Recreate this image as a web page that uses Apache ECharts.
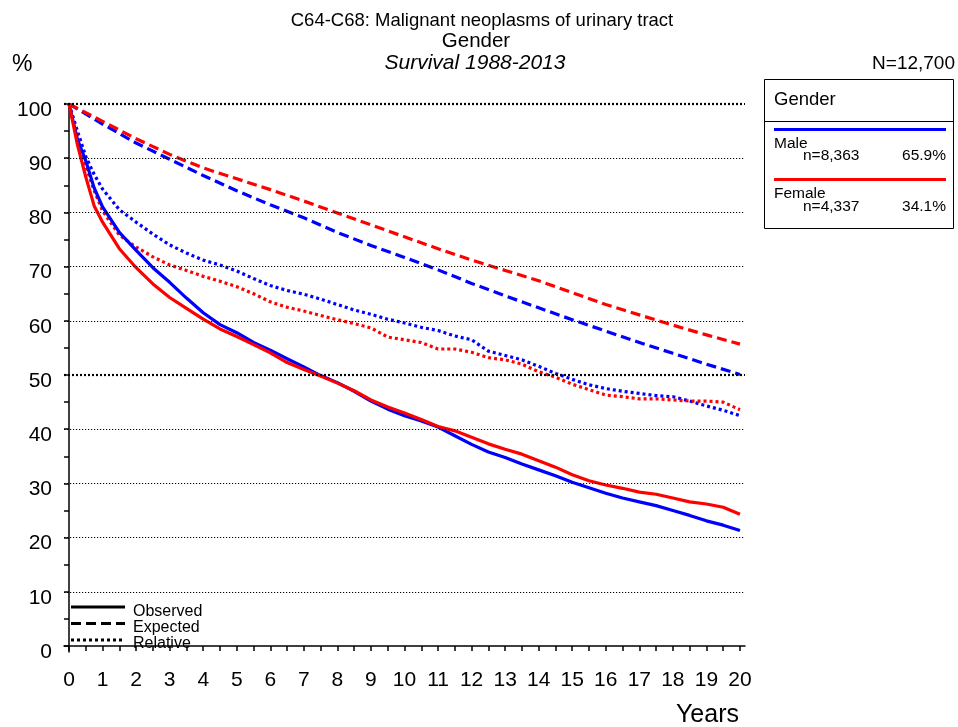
<!DOCTYPE html>
<html><head><meta charset="utf-8">
<script src="https://cdn.jsdelivr.net/npm/echarts@6.0.0/dist/echarts.min.js"></script>
<style>html,body{margin:0;padding:0;background:#fff}#c{width:958px;height:727px}</style>
</head><body><div id="c"></div>
<script>
// time points (years)
const tObs = [0,0.25,0.5,0.75,1,1.5,2,2.5,3,3.5,4,4.5,5,5.5,6,6.5,7,7.5,8,8.5,9,9.5,10,10.5,11,11.5,12,12.5,13,13.5,14,14.5,15,15.5,16,16.5,17,17.5,18,18.5,19,19.5,20];
const tExp = [0,1,2,3,4,5,6,7,8,9,10,11,12,13,14,15,16,17,18,19,20];
// observed survival (%)
const maleObs = [100,93.5,89.5,84.5,81,76.3,73,69.8,67.1,64.2,61.5,59.3,57.8,56,54.6,53,51.5,49.9,48.6,47,45.2,43.7,42.5,41.5,40.4,38.8,37.2,35.8,34.8,33.6,32.5,31.4,30.2,29.2,28.2,27.3,26.6,25.9,25.0,24.1,23.1,22.3,21.3];
const femaleObs = [100,92.5,86.5,81.2,78.2,73.3,69.8,66.8,64.3,62.3,60.3,58.5,57.1,55.6,54.1,52.3,51,49.8,48.5,47.1,45.4,44.1,43,41.8,40.5,39.7,38.5,37.3,36.3,35.4,34.2,33,31.6,30.5,29.7,29.1,28.4,28.0,27.3,26.6,26.2,25.6,24.3];
// relative survival (%)
const maleRel = [100,95,90.3,87,84.3,80.5,78.2,76,74,72.5,71.2,70.3,69.2,67.8,66.5,65.6,64.9,64,63,62,61.2,60.3,59.6,58.8,58.2,57.2,56.5,54.4,53.6,52.8,51.6,50.3,49.2,48.2,47.5,47,46.6,46.2,46,45.2,44.3,43.5,42.5];
const femaleRel = [100,94,88.5,84,80.3,75.8,73.6,71.8,70.3,69.3,68.2,67.3,66.3,65,63.5,62.5,61.8,61,60.2,59.5,58.7,57,56.5,56,54.8,54.8,54.2,53.2,52.8,52,50.6,49.6,48.3,47.3,46.3,46,45.6,45.6,45.4,45.2,45.2,45,43.6];
// expected survival (%)
const maleExp = [100,96.3,92.8,89.8,86.8,84.0,81.4,79.0,76.3,73.9,71.7,69.4,66.9,64.6,62.4,60.2,58.1,56.0,54.0,52.0,50.1];
const femaleExp = [100,96.8,93.6,90.7,88.2,86.2,84.2,82.1,79.9,77.7,75.5,73.3,71.2,69.3,67.4,65.2,63.0,61.1,59.2,57.4,55.7];
// axis ticks / labels
const xTicks = [0,0.5,1,1.5,2,2.5,3,3.5,4,4.5,5,5.5,6,6.5,7,7.5,8,8.5,9,9.5,10,10.5,11,11.5,12,12.5,13,13.5,14,14.5,15,15.5,16,16.5,17,17.5,18,18.5,19,19.5,20];
const xLabels = [0,1,2,3,4,5,6,7,8,9,10,11,12,13,14,15,16,17,18,19,20];
const yTicks = [0,5,10,15,20,25,30,35,40,45,50,55,60,65,70,75,80,85,90,95,100];
const yLabels = [0,10,20,30,40,50,60,70,80,90,100];
const gridLevels = [10,20,30,40,50,60,70,80,90,100];
const boldLevels = [50,100];

const FONT = "'Liberation Sans', Arial, sans-serif";
const BLUE = '#0000ff', RED = '#ff0000';

function pairs(t, v){ return t.map((x,i)=>[x, v[i]]); }
function mk(name, t, v, color, type){
  return {name, type:'line', data:pairs(t,v), showSymbol:false, symbol:'none', silent:true,
    lineStyle:{color, width:3.2, type, cap:'butt', join:'round'}, z:3, animation:false};
}

const chart = echarts.init(document.getElementById('c'), null, {renderer:'canvas'});
const txt = (x,y,s,size,opts={}) => ({type:'text', x, y, silent:true,
  style:Object.assign({text:s, fontSize:size, fontFamily:FONT, fill:'#000', align:'left', verticalAlign:'middle'}, opts)});
const ln = (x1,y1,x2,y2,color,w,dash) => ({type:'line', silent:true, shape:{x1,y1,x2,y2},
  style:{stroke:color, lineWidth:w, lineDash:dash||null}});

chart.setOption({
  animation:false,
  backgroundColor:'#fff',
  grid:{left:64, right:213, top:104, bottom:75},
  xAxis:{type:'value', min:-0.15, max:20.15,
    axisLine:{show:true, lineStyle:{color:'#000', width:1.5}},
    axisTick:{show:true, customValues:xTicks, length:5, lineStyle:{color:'#000', width:1.5}},
    axisLabel:{customValues:xLabels, fontSize:21, color:'#000', fontFamily:FONT, margin:18},
    splitLine:{show:false}},
  yAxis:{type:'value', min:-1.1, max:100,
    axisLine:{show:true, lineStyle:{color:'#000', width:1.5}},
    axisTick:{show:true, customValues:yTicks, length:5, lineStyle:{color:'#000', width:1.5}},
    axisLabel:{customValues:yLabels, fontSize:21, color:'#000', fontFamily:FONT, margin:12,
      verticalAlign:'top', lineHeight:12},
    splitLine:{show:false}},
  series:[
    {type:'line', data:[], silent:true, z:1,
      markLine:{silent:true, symbol:'none', animation:false, label:{show:false},
        data:gridLevels.map(v=>({yAxis:v, lineStyle:{color:'#000', width:boldLevels.includes(v)?2.2:1.2, type:boldLevels.includes(v)?[2,2]:[1.2,1.8]}})),
        emphasis:{disabled:true}}},
    mk('Male expected', tExp, maleExp, BLUE, [10,5]),
    mk('Female expected', tExp, femaleExp, RED, [10,5]),
    mk('Male relative', tObs, maleRel, BLUE, [3,3]),
    mk('Female relative', tObs, femaleRel, RED, [3,3]),
    mk('Male observed', tObs, maleObs, BLUE, 'solid'),
    mk('Female observed', tObs, femaleObs, RED, 'solid')
  ],
  graphic:[
    txt(482,21,'C64-C68: Malignant neoplasms of urinary tract',18.5,{align:'center'}),
    txt(476,41,'Gender',20.5,{align:'center'}),
    txt(475,63,'Survival 1988-2013',21,{align:'center', fontStyle:'italic'}),
    txt(12,65,'%',23),
    txt(955,64,'N=12,700',19,{align:'right'}),
    txt(739,715,'Years',25,{align:'right'}),
    // legend box
    {type:'rect', silent:true, shape:{x:764.5,y:79.5,width:189,height:149}, style:{fill:'#fff', stroke:'#000', lineWidth:1}},
    ln(764.5,121.5,953.5,121.5,'#000',1),
    txt(774,100,'Gender',18.5),
    ln(774,129.5,946,129.5,BLUE,3),
    txt(774,144,'Male',15.5),
    txt(803,156,'n=8,363',15.5),
    txt(946,156,'65.9%',15.5,{align:'right'}),
    ln(774,179.5,946,179.5,RED,3),
    txt(774,194,'Female',15.5),
    txt(803,207,'n=4,337',15.5),
    txt(946,207,'34.1%',15.5,{align:'right'}),
    // line-type legend
    ln(71,607,125,607,'#000',3),
    txt(133,612,'Observed',16),
    ln(71,623.5,125,623.5,'#000',3,[10,5]),
    txt(133,628,'Expected',16),
    ln(71,640,125,640,'#000',3,[3,3]),
    txt(133,644,'Relative',16)
  ]
});
</script>
</body></html>
